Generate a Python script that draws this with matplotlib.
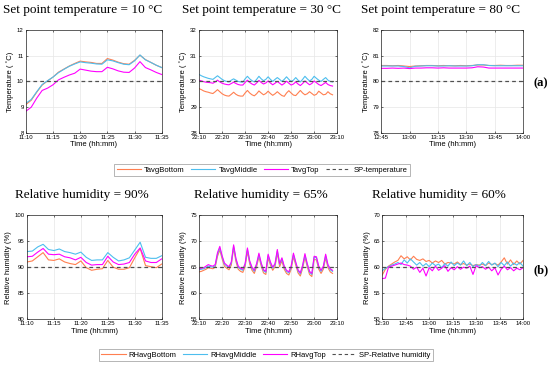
import matplotlib
matplotlib.use('Agg')
import matplotlib.pyplot as plt

# colours of the three sensors and the set point
c_bottom = '#FF7F50'
c_middle = '#4DBEEE'
c_top = '#FF00FF'
c_sp = '#505050'

# ---------- (a) temperature, set point 10 C (minutes after 11:10)
t10_bottom = [9.10, 9.27, 9.58, 9.86, 10.02, 10.17, 10.36, 10.48, 10.60, 10.70, 10.79, 10.76, 10.74, 10.70, 10.70,
              10.89, 10.83, 10.75, 10.69, 10.67, 10.82, 11.02, 10.85, 10.74, 10.63, 10.54]
t10_middle = [9.15, 9.30, 9.60, 9.88, 10.03, 10.17, 10.34, 10.47, 10.59, 10.68, 10.76, 10.73, 10.71, 10.68, 10.67,
              10.84, 10.80, 10.73, 10.67, 10.65, 10.80, 11.03, 10.84, 10.74, 10.63, 10.54]
t10_top = [8.84, 9.00, 9.35, 9.65, 9.74, 9.87, 10.06, 10.16, 10.25, 10.32, 10.48, 10.44, 10.40, 10.38, 10.38,
           10.55, 10.49, 10.41, 10.36, 10.35, 10.52, 10.77, 10.54, 10.45, 10.35, 10.27]

# ---------- temperature, set point 30 C (minutes after 22:10)
t30_bottom = [29.72, 29.68, 29.63, 29.60, 29.58, 29.55, 29.53, 29.60, 29.68, 29.60, 29.52, 29.47, 29.44, 29.43, 29.50,
              29.58, 29.50, 29.45, 29.43, 29.43, 29.55, 29.65, 29.55, 29.48, 29.44, 29.52, 29.63, 29.55, 29.48, 29.53,
              29.62, 29.53, 29.46, 29.52, 29.60, 29.52, 29.45, 29.42, 29.55, 29.64, 29.55, 29.47, 29.45, 29.55, 29.65,
              29.55, 29.48, 29.52, 29.60, 29.53, 29.46, 29.50, 29.62, 29.55, 29.48, 29.50, 29.60, 29.52, 29.48]
t30_middle = [30.27, 30.22, 30.18, 30.15, 30.12, 30.10, 30.08, 30.15, 30.22, 30.15, 30.08, 30.03, 30.00, 29.98, 30.05,
              30.10, 30.05, 30.00, 29.98, 29.97, 30.10, 30.20, 30.10, 30.03, 29.98, 30.08, 30.20, 30.10, 30.03, 30.08,
              30.18, 30.08, 30.00, 30.08, 30.15, 30.08, 30.00, 30.08, 30.18, 30.08, 30.00, 30.05, 30.15, 30.05, 29.98,
              30.08, 30.20, 30.10, 30.02, 30.08, 30.20, 30.12, 30.05, 30.00, 30.08, 30.15, 30.05, 30.00, 29.98]
t30_top = [30.05, 30.02, 29.99, 29.97, 29.96, 29.95, 29.93, 29.98, 30.05, 29.98, 29.93, 29.90, 29.88, 29.87, 29.92,
           29.97, 29.92, 29.88, 29.86, 29.86, 29.96, 30.05, 29.96, 29.90, 29.86, 29.94, 30.04, 29.96, 29.90, 29.94,
           30.02, 29.94, 29.87, 29.93, 30.00, 29.93, 29.86, 29.92, 30.01, 29.93, 29.86, 29.90, 29.98, 29.90, 29.84,
           29.92, 30.02, 29.94, 29.87, 29.92, 30.02, 29.95, 29.88, 29.84, 29.90, 29.96, 29.88, 29.84, 29.82]

# ---------- temperature, set point 80 C (3-minute samples after 12:45)
t80_bottom = [80.62, 80.62, 80.61, 80.62, 80.60, 80.58, 80.60, 80.61, 80.62, 80.62, 80.61, 80.62, 80.61, 80.61,
              80.62, 80.61, 80.62, 80.64, 80.64, 80.62, 80.62, 80.63, 80.62, 80.62, 80.63, 80.63]
t80_middle = [80.60, 80.60, 80.60, 80.60, 80.58, 80.53, 80.59, 80.60, 80.61, 80.61, 80.60, 80.60, 80.61, 80.60,
              80.60, 80.60, 80.61, 80.65, 80.65, 80.62, 80.61, 80.61, 80.61, 80.61, 80.61, 80.61]
t80_top = [80.51, 80.51, 80.52, 80.51, 80.52, 80.50, 80.52, 80.52, 80.53, 80.53, 80.52, 80.53, 80.52, 80.52,
           80.52, 80.52, 80.53, 80.57, 80.56, 80.52, 80.52, 80.52, 80.52, 80.52, 80.52, 80.52]

# ---------- (b) relative humidity, 90 % (minutes after 11:10)
rh90_bottom = [91.0, 91.2, 92.0, 92.8, 91.4, 91.3, 91.6, 91.0, 90.7, 90.5, 91.2, 89.9, 89.4, 89.6, 89.7,
               91.3, 90.0, 89.6, 89.6, 89.9, 91.8, 93.6, 90.3, 90.1, 89.9, 90.6]
rh90_middle = [93.0, 93.1, 93.9, 94.4, 93.4, 93.2, 93.5, 93.0, 92.8, 92.5, 92.9, 91.9, 91.3, 91.4, 91.4,
               92.8, 91.9, 91.2, 91.4, 91.8, 93.3, 94.8, 91.9, 91.7, 91.7, 92.2]
rh90_top = [92.0, 92.1, 92.9, 93.6, 92.5, 92.4, 92.5, 92.0, 91.8, 91.4, 91.9, 90.9, 90.4, 90.5, 90.5,
            92.1, 91.0, 90.5, 90.6, 90.9, 92.5, 93.7, 91.2, 90.9, 90.9, 91.6]

# ---------- relative humidity, 65 % (minutes after 22:10)
rh65_bottom = [64.1, 64.2, 64.4, 64.6, 64.9, 64.8, 64.7, 65.0, 67.1, 68.3, 66.6, 65.2, 64.8, 64.5, 65.4,
               68.7, 66.1, 64.6, 64.2, 64.0, 65.1, 68.0, 65.6, 64.4, 63.8, 65.1, 67.0, 65.2, 63.9, 63.6,
               66.8, 65.4, 64.4, 65.1, 67.7, 65.1, 66.2, 64.6, 63.8, 63.5, 64.6, 67.0, 65.4, 63.9, 63.3,
               64.8, 66.9, 65.1, 63.6, 63.2, 66.5, 66.4, 64.6, 63.8, 64.6, 66.8, 64.9, 64.1, 63.8]
rh65_middle = [64.5, 64.6, 64.7, 64.9, 65.2, 65.1, 65.0, 65.3, 67.5, 68.7, 67.0, 65.6, 65.2, 64.9, 65.8,
               69.0, 66.5, 65.0, 64.6, 64.4, 65.5, 68.4, 66.0, 64.8, 64.2, 65.5, 67.4, 65.6, 64.3, 64.0,
               67.2, 65.8, 64.8, 65.5, 68.1, 65.5, 66.6, 65.0, 64.2, 63.9, 65.0, 67.4, 65.8, 64.3, 63.7,
               65.2, 67.3, 65.5, 64.0, 63.6, 66.9, 66.8, 65.0, 64.2, 65.0, 67.2, 65.3, 64.5, 64.2]
rh65_top = [64.7, 64.8, 64.9, 65.2, 65.5, 65.3, 65.2, 65.5, 67.8, 69.0, 67.2, 65.8, 65.4, 65.1, 66.0,
            69.3, 66.7, 65.2, 64.8, 64.6, 65.7, 68.7, 66.2, 65.0, 64.4, 65.7, 67.7, 65.8, 64.5, 64.2,
            67.5, 66.0, 65.0, 65.7, 68.4, 65.7, 66.8, 65.2, 64.4, 64.1, 65.2, 67.7, 66.0, 64.5, 63.9,
            65.4, 67.6, 65.7, 64.2, 63.8, 67.1, 67.0, 65.2, 64.4, 65.2, 67.5, 65.5, 64.7, 64.4]

# ---------- relative humidity, 60 % (2-minute samples after 12:30)
rh60_bottom = [58.5, 59.6, 60.2, 60.6, 61.0, 61.3, 62.2, 61.6, 62.0, 61.4, 62.1, 61.5, 61.3, 61.6, 61.1,
               61.3, 60.8, 61.2, 60.9, 61.3, 60.6, 60.9, 60.8, 60.6, 61.0, 60.5, 60.7, 60.4, 60.6, 60.3,
               60.5, 60.4, 60.6, 60.3, 60.8, 60.5, 60.7, 60.4, 61.0, 61.8, 60.6, 61.4, 60.5, 61.2, 60.6, 61.3]
rh60_middle = [59.3, 59.8, 60.1, 60.4, 60.6, 60.9, 60.5, 61.4, 60.8, 61.6, 61.0, 60.4, 60.9, 60.2, 60.7,
               60.1, 60.8, 60.3, 60.6, 59.9, 60.7, 60.2, 61.0, 60.3, 60.8, 60.4, 61.2, 60.3, 60.9, 60.1,
               60.5, 60.2, 60.9, 60.3, 61.1, 60.4, 60.8, 60.1, 60.9, 60.3, 61.0, 60.2, 60.8, 60.4, 60.9, 60.2]
rh60_top = [57.8, 57.9, 60.0, 60.2, 60.4, 60.6, 60.8, 60.5, 60.4, 60.2, 59.6, 60.0, 59.0, 59.8, 58.3,
            59.9, 59.3, 60.2, 59.4, 59.8, 60.3, 59.2, 59.9, 59.5, 60.1, 59.6, 60.0, 59.8, 60.2, 58.6,
            60.3, 59.9, 60.1, 59.6, 60.0, 59.3, 59.9, 58.5, 59.6, 60.2, 59.5, 59.9, 59.3, 59.8, 59.5, 59.9]

# x ticks (minutes from start) and their labels
ticks10 = [0, 5, 10, 15, 20, 25]
labels10 = ['11:10', '11:15', '11:20', '11:25', '11:30', '11:35']
ticks60m = [0, 10, 20, 30, 40, 50, 60]
labels30 = ['22:10', '22:20', '22:30', '22:40', '22:50', '23:00', '23:10']
ticks75 = [0, 15, 30, 45, 60, 75]
labels80 = ['12:45', '13:00', '13:15', '13:30', '13:45', '14:00']
ticks90 = [0, 15, 30, 45, 60, 75, 90]
labels60 = ['12:30', '12:45', '13:00', '13:15', '13:30', '13:45', '14:00']

plt.rcParams['font.family'] = ['Liberation Sans', 'DejaVu Sans']

fig = plt.figure(figsize=(5.5, 3.66), dpi=100)

def panel(rect, series, step, ticks, labels, xmax, ylim, ystep, sp, ylabel):
    ax = fig.add_axes(rect)
    for vals, col in zip(series, [c_bottom, c_middle, c_top]):
        x = [i * step for i in range(len(vals))]
        ax.plot(x, vals, color=col, lw=0.8)
    ax.axhline(sp, color=c_sp, ls=(0, (3, 2.5)), lw=0.9)
    ax.set_xlim(0, xmax)
    ax.set_ylim(*ylim)
    ax.set_xticks(ticks)
    ax.set_xticklabels(labels)
    ax.set_yticks(list(range(ylim[0], ylim[1] + 1, ystep)))
    ax.grid(True, color='#e6e6e6', lw=0.5)
    ax.tick_params(labelsize=4.3, direction='in', length=1.5, width=0.4, top=True, right=True, pad=1.5)
    for s in ax.spines.values():
        s.set_linewidth(0.5)
        s.set_color('#262626')
    ax.set_xlabel('Time (hh:mm)', fontsize=5.5, labelpad=1)
    ax.set_ylabel(ylabel, fontsize=5.5, labelpad=2)
    return ax

top_y, top_h = 0.637, 0.281
bot_y, bot_h = 0.128, 0.284
panel([0.047, top_y, 0.247, top_h], [t10_bottom, t10_middle, t10_top], 1, ticks10, labels10, 25,
      (8, 12), 1, 10, 'Temperature ( ˚C)')
panel([0.362, top_y, 0.251, top_h], [t30_bottom, t30_middle, t30_top], 1, ticks60m, labels30, 60,
      (28, 32), 1, 30, 'Temperature ( ˚C)')
panel([0.693, top_y, 0.258, top_h], [t80_bottom, t80_middle, t80_top], 3, ticks75, labels80, 75,
      (78, 82), 1, 80, 'Temperature ( ˚C)')
panel([0.049, bot_y, 0.245, bot_h], [rh90_bottom, rh90_middle, rh90_top], 1, ticks10, labels10, 25,
      (80, 100), 5, 90, 'Relative humidity (%)')
panel([0.362, bot_y, 0.251, bot_h], [rh65_bottom, rh65_middle, rh65_top], 1, ticks60m, labels30, 60,
      (55, 75), 5, 65, 'Relative humidity (%)')
panel([0.695, bot_y, 0.256, bot_h], [rh60_bottom, rh60_middle, rh60_top], 2, ticks90, labels60, 90,
      (50, 70), 5, 60, 'Relative humidity (%)')

serif = ['Liberation Serif', 'DejaVu Serif']
titles_top = ['Set point temperature = 10 °C', 'Set point temperature = 30 °C', 'Set point temperature = 80 °C']
titles_bot = ['Relative humidity = 90%', 'Relative humidity = 65%', 'Relative humidity = 60%']
for xc, t in zip([83 / 550, 262 / 550, 441 / 550], titles_top):
    fig.text(xc, 1 - 10 / 366, t, ha='center', va='center', fontsize=9.5, family=serif)
for xc, t in zip([82 / 550, 261 / 550, 439 / 550], titles_bot):
    fig.text(xc, 1 - 195 / 366, t, ha='center', va='center', fontsize=9.5, family=serif)

fig.text(541 / 550, 1 - 83 / 366, '(a)', ha='center', va='center', fontsize=9, weight='bold', family=serif)
fig.text(541 / 550, 1 - 270 / 366, '(b)', ha='center', va='center', fontsize=9, weight='bold', family=serif)

legend_style = dict(loc='center', ncol=4, fontsize=5.5, frameon=True, fancybox=False, edgecolor='#999999',
                    handlelength=3.2, handletextpad=0.4, columnspacing=0.8, borderpad=0.3, framealpha=1)
h = [plt.Line2D([], [], color=c, lw=0.8) for c in [c_bottom, c_middle, c_top]]
h.append(plt.Line2D([], [], color=c_sp, lw=0.8, ls=(0, (3, 2.5))))
leg1 = fig.legend(h, ['TavgBottom', 'TavgMiddle', 'TavgTop', 'SP-temperature'],
                  bbox_to_anchor=(262 / 550, 1 - 170 / 366), **legend_style)
leg1.get_frame().set_linewidth(0.5)
leg2 = fig.legend(h, ['RHavgBottom', 'RHavgMiddle', 'RHavgTop', 'SP-Relative humidity'],
                  bbox_to_anchor=(266 / 550, 1 - 355 / 366), **legend_style)
leg2.get_frame().set_linewidth(0.5)

fig.savefig('out.png', dpi=100)
